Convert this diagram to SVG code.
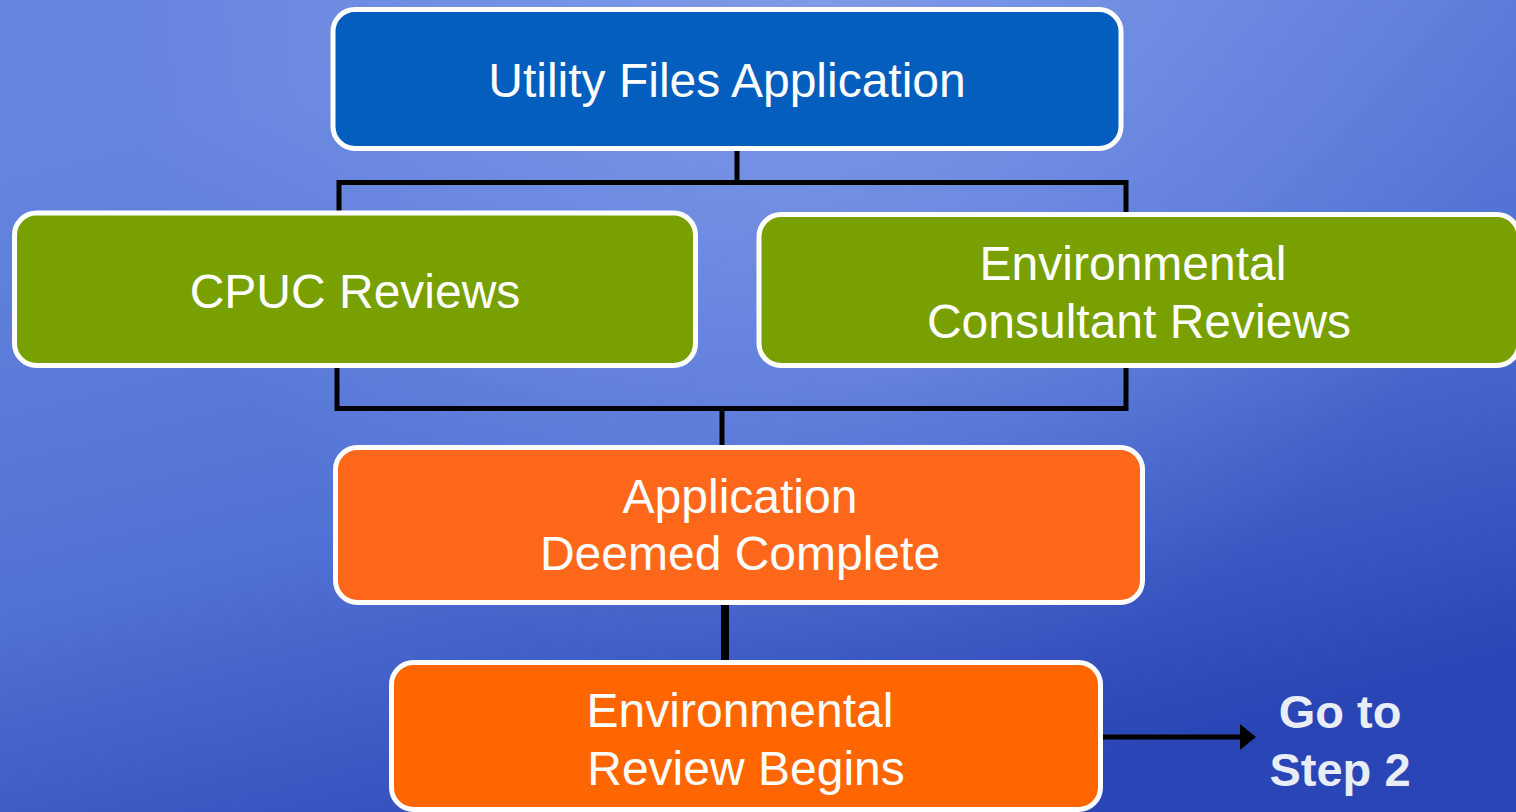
<svg xmlns="http://www.w3.org/2000/svg" width="1516" height="812" viewBox="0 0 1516 812">
<defs>
<linearGradient id="bg" gradientUnits="userSpaceOnUse" x1="700" y1="0" x2="900" y2="812">
<stop offset="0" stop-color="#6584de"/>
<stop offset="0.5" stop-color="#5273d6"/>
<stop offset="1" stop-color="#2a45b5"/>
</linearGradient>
<radialGradient id="hl" gradientUnits="userSpaceOnUse" cx="820" cy="0" r="700">
<stop offset="0" stop-color="#a0b6f5" stop-opacity="0.45"/>
<stop offset="1" stop-color="#a0b6f5" stop-opacity="0"/>
</radialGradient>
<style>
.box{stroke:#ffffff;stroke-width:5}
.lbl{font-family:"Liberation Sans",Arial,sans-serif;font-size:48px;fill:#ffffff;text-anchor:middle}
.go{font-family:"Liberation Sans",Arial,sans-serif;font-size:47px;font-weight:bold;fill:#e9edf7;text-anchor:middle}
.con{fill:none;stroke:#000000;stroke-width:5}
</style>
</defs>
<rect x="0" y="0" width="1516" height="812" fill="url(#bg)"/>
<rect x="0" y="0" width="1516" height="812" fill="url(#hl)"/>
<g id="connectors">
<path class="con" d="M737,150 V182.5 M339,212 V182.5 H1126 V214"/>
<path class="con" d="M337,366 V408.5 H1126 V366 M722,408.5 V447"/>
<path class="con" d="M725,603 V662" style="stroke-width:8"/>
<path class="con" d="M1103,737 H1242"/>
<polygon points="1240,724 1256,737 1240,750" fill="#000000"/>
</g>
<g id="utility">
<rect class="box" x="333" y="9.5" width="788" height="139" rx="22" fill="#035ebd"/>
<text class="lbl" x="727" y="97">Utility Files Application</text>
</g>
<g id="cpuc">
<rect class="box" x="14.5" y="213" width="681" height="152.5" rx="22" fill="#77a000"/>
<text class="lbl" x="355" y="308">CPUC Reviews</text>
</g>
<g id="consultant">
<rect class="box" x="759" y="214.5" width="760" height="151" rx="22" fill="#77a000"/>
<text class="lbl" x="1133" y="280">Environmental</text>
<text class="lbl" x="1139" y="338">Consultant Reviews</text>
</g>
<g id="complete">
<rect class="box" x="335.5" y="447.5" width="807" height="155" rx="22" fill="#ff671b"/>
<text class="lbl" x="740" y="513">Application</text>
<text class="lbl" x="740" y="570">Deemed Complete</text>
</g>
<g id="review">
<rect class="box" x="391.5" y="662.5" width="709" height="147" rx="22" fill="#ff6600"/>
<text class="lbl" x="740" y="727">Environmental</text>
<text class="lbl" x="746" y="785">Review Begins</text>
</g>
<g id="step2">
<text class="go" x="1340" y="728">Go to</text>
<text class="go" x="1340" y="786">Step 2</text>
</g>
</svg>
